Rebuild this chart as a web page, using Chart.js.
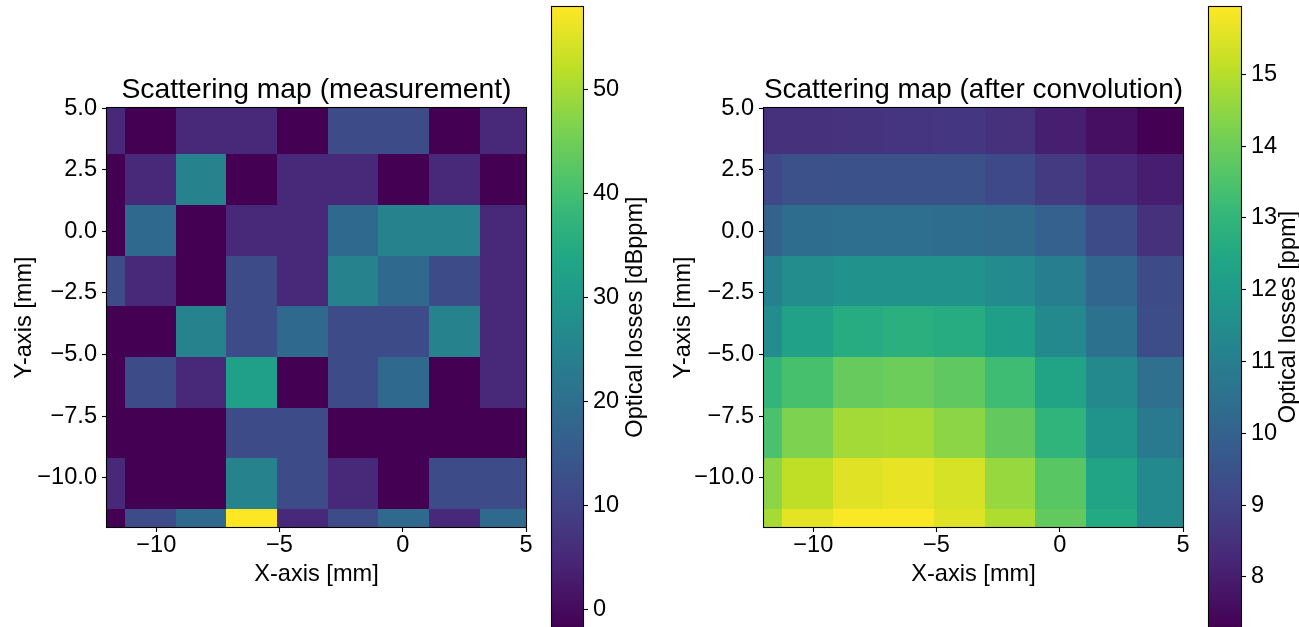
<!DOCTYPE html>
<html>
<head>
<meta charset="utf-8">
<script src="https://cdn.jsdelivr.net/npm/chart.js@4.4.1/dist/chart.umd.min.js"></script>
<style>
  html, body { margin: 0; padding: 0; background: #fff; }
  #wrap { position: relative; width: 1299px; height: 627px; overflow: hidden; background: #fff; }
  #wrap canvas { position: absolute; left: 0; top: 0; }
</style>
</head>
<body>
<div id="wrap">
  <canvas id="mapRaw" width="1299" height="627"></canvas>
  <canvas id="barRaw" width="1299" height="627"></canvas>
  <canvas id="mapConv" width="1299" height="627"></canvas>
  <canvas id="barConv" width="1299" height="627"></canvas>
</div>
<script>
// grid cell edges in mm (same for x and y)
const cellEdges = [-13.33, -11.27, -9.21, -7.16, -5.10, -3.05, -0.99, 1.07, 3.12, 5.18];
const xTickValues = [-10, -5, 0, 5];
const yTickValues = [-10, -7.5, -5, -2.5, 0, 2.5, 5];

// measured losses in dBppm, rows listed from top (y = 5) to bottom (y = -12)
const measuredLosses = [
  [5.0, -1.7, 5.0, 5.0, -1.7, 12.0, 12.0, -1.7, 5.0],
  [-1.7, 5.0, 25.0, -1.7, 5.0, 5.0, -1.7, 5.0, -1.7],
  [-1.7, 18.5, -1.7, 5.0, 5.0, 18.5, 25.0, 25.0, 5.0],
  [12.0, 5.0, -1.7, 12.0, 5.0, 25.0, 18.5, 12.0, 5.0],
  [-1.7, -1.7, 25.0, 12.0, 18.5, 12.0, 12.0, 25.0, 5.0],
  [-1.7, 12.0, 5.0, 32.0, -1.7, 12.0, 18.5, -1.7, 5.0],
  [-1.7, -1.7, -1.7, 12.0, 12.0, -1.7, -1.7, -1.7, -1.7],
  [5.0, -1.7, -1.7, 25.0, 12.0, 5.0, -1.7, 12.0, 12.0],
  [-1.7, 12.0, 18.5, 57.9, 5.0, 12.0, 18.5, 5.0, 18.5]
];

// losses after convolution in ppm, same row order
const convolvedLosses = [
  [8.5, 8.5, 8.55, 8.6, 8.65, 8.5, 8.05, 7.65, 7.3],
  [9.15, 9.4, 9.45, 9.45, 9.45, 9.2, 8.75, 8.25, 8.0],
  [10.0, 10.35, 10.4, 10.4, 10.35, 10.3, 9.95, 9.25, 8.5],
  [11.05, 11.5, 11.65, 11.7, 11.65, 11.4, 11.0, 10.15, 9.25],
  [11.5, 12.2, 12.65, 12.75, 12.65, 12.15, 11.35, 10.55, 9.3],
  [13.0, 13.4, 13.9, 14.0, 13.8, 13.25, 12.35, 11.35, 10.45],
  [13.45, 14.25, 14.75, 14.8, 14.45, 13.85, 12.95, 11.75, 10.85],
  [14.45, 15.1, 15.55, 15.65, 15.4, 14.6, 13.7, 12.3, 11.35],
  [14.8, 15.6, 15.9, 15.9, 15.55, 14.9, 13.85, 12.55, 11.35]
];

const measuredRange = [-1.7, 57.9];
const convolvedRange = [7.3, 15.94];
const measuredBarTicks = [0, 10, 20, 30, 40, 50];
const convolvedBarTicks = [8, 9, 10, 11, 12, 13, 14, 15];

const FONT = '"Liberation Sans", Arial, sans-serif';
const TICK_SIZE = 23.6;
const TITLE_SIZE = 28.3;

const viridisStops = [
  [0.000, '#440154'], [0.100, '#482475'], [0.111, '#482878'], [0.200, '#414487'],
  [0.222, '#3e4a89'], [0.300, '#355f8d'], [0.333, '#31688e'], [0.400, '#2a788e'],
  [0.444, '#26828e'], [0.500, '#21918c'], [0.556, '#1f9e89'], [0.600, '#22a884'],
  [0.667, '#35b779'], [0.700, '#44bf70'], [0.778, '#6dcd59'], [0.800, '#7ad151'],
  [0.889, '#b4de2c'], [0.900, '#bddf26'], [1.000, '#fde725']
];

function hexToRgb(h) {
  return [1, 3, 5].map(i => parseInt(h.slice(i, i + 2), 16));
}

function viridis(t) {
  t = Math.min(1, Math.max(0, t));
  for (let i = 1; i < viridisStops.length; i++) {
    const [t1, c1] = viridisStops[i];
    if (t <= t1) {
      const [t0, c0] = viridisStops[i - 1];
      const f = (t - t0) / (t1 - t0);
      const a = hexToRgb(c0), b = hexToRgb(c1);
      const rgb = a.map((v, k) => Math.round(v + (b[k] - v) * f));
      return `rgb(${rgb[0]},${rgb[1]},${rgb[2]})`;
    }
  }
  return viridisStops[viridisStops.length - 1][1];
}

const minus = s => s.replace('-', '\u2212');

function drawFrame(chart) {
  const {ctx, chartArea: a} = chart;
  ctx.save();
  ctx.strokeStyle = '#000';
  ctx.lineWidth = 1.1;
  ctx.strokeRect(Math.round(a.left) - 0.5, Math.round(a.top) - 0.5,
    Math.round(a.width) + 1, Math.round(a.height) + 1);
  ctx.restore();
}

// fills the grid cells, colour comes from the value through viridis
const heatmapLayer = {
  id: 'heatmap',
  beforeDatasetsDraw(chart, args, opts) {
    const {ctx, chartArea: a, scales: {x, y}} = chart;
    const n = opts.values.length;
    const [lo, hi] = opts.range;
    ctx.save();
    ctx.beginPath();
    ctx.rect(a.left, a.top, a.width, a.height);
    ctx.clip();
    opts.values.forEach((row, r) => {
      const y0 = Math.round(y.getPixelForValue(opts.edges[n - r]));
      const y1 = Math.round(y.getPixelForValue(opts.edges[n - 1 - r]));
      row.forEach((v, c) => {
        const x0 = Math.round(x.getPixelForValue(opts.edges[c]));
        const x1 = Math.round(x.getPixelForValue(opts.edges[c + 1]));
        ctx.fillStyle = viridis((v - lo) / (hi - lo));
        ctx.fillRect(x0, y0, x1 - x0, y1 - y0);
      });
    });
    ctx.restore();
  },
  afterDraw: drawFrame
};

// colour bar: gradient along the y scale plus a rotated label
const colorBarLayer = {
  id: 'colorbar',
  beforeDatasetsDraw(chart, args, opts) {
    const {ctx, chartArea: a, scales: {y}} = chart;
    const [lo, hi] = opts.range;
    const g = ctx.createLinearGradient(0, y.getPixelForValue(lo), 0, y.getPixelForValue(hi));
    viridisStops.forEach(([t, c]) => g.addColorStop(t, c));
    ctx.save();
    ctx.fillStyle = g;
    ctx.fillRect(a.left, a.top, a.width, a.height);
    ctx.restore();
  },
  afterDraw(chart, args, opts) {
    drawFrame(chart);
    const {ctx, chartArea: a} = chart;
    ctx.save();
    ctx.translate(a.right + opts.labelOffset, (a.top + a.bottom) / 2);
    ctx.rotate(-Math.PI / 2);
    ctx.font = `${TICK_SIZE}px ${FONT}`;
    ctx.fillStyle = '#000';
    ctx.textAlign = 'center';
    ctx.textBaseline = 'middle';
    ctx.fillText(opts.label, 0, 0);
    ctx.restore();
  }
};

const tickGrid = {drawOnChartArea: false, drawTicks: true, tickLength: 5, tickColor: '#000', tickWidth: 1.1};

function fixWidth(w) {
  return s => { s.width = w; s.paddingTop = 0; s.paddingBottom = 0; };
}

function heatmapChart(id, title, values, range, padLeft, yWidth, plotRight) {
  return new Chart(document.getElementById(id), {
    type: 'scatter',
    data: {datasets: [{data: []}]},
    plugins: [heatmapLayer],
    options: {
      responsive: false,
      devicePixelRatio: 1,
      animation: false,
      events: [],
      layout: {padding: {left: padLeft, right: 1299 - plotRight, top: 0, bottom: 0}},
      plugins: {
        legend: {display: false},
        tooltip: {enabled: false},
        title: {
          display: true,
          text: title,
          fullSize: false,
          color: '#000',
          font: {family: FONT, size: TITLE_SIZE, weight: 'normal', lineHeight: 1.2},
          padding: {top: 73, bottom: 1.04}
        },
        heatmap: {values: values, range: range, edges: cellEdges}
      },
      scales: {
        x: {
          type: 'linear', position: 'bottom', min: -12, max: 5,
          afterBuildTicks: s => { s.ticks = xTickValues.map(v => ({value: v})); },
          afterFit: s => { s.height = 100; s.paddingLeft = 0; s.paddingRight = 0; },
          grid: tickGrid,
          border: {display: false},
          ticks: {
            color: '#000', padding: 5, maxRotation: 0,
            font: {family: FONT, size: TICK_SIZE, lineHeight: 0.72},
            callback: v => minus(String(v))
          },
          title: {
            display: true, text: 'X-axis [mm]', color: '#000',
            font: {family: FONT, size: TICK_SIZE, lineHeight: 1.2},
            padding: {top: 0, bottom: 38.8}
          }
        },
        y: {
          type: 'linear', position: 'left', min: -12, max: 5,
          afterBuildTicks: s => { s.ticks = yTickValues.map(v => ({value: v})); },
          afterFit: fixWidth(yWidth),
          grid: tickGrid,
          border: {display: false},
          ticks: {
            color: '#000', padding: 5,
            font: {family: FONT, size: TICK_SIZE},
            callback: v => minus(Number(v).toFixed(1))
          },
          title: {
            display: true, text: 'Y-axis [mm]', color: '#000',
            font: {family: FONT, size: TICK_SIZE, lineHeight: 1.2},
            padding: {top: 10.8, bottom: 0}
          }
        }
      }
    }
  });
}

function colorBarChart(id, range, ticks, label, barLeft, barRight, axisWidth, labelOffset) {
  return new Chart(document.getElementById(id), {
    type: 'scatter',
    data: {datasets: [{data: []}]},
    plugins: [colorBarLayer],
    options: {
      responsive: false,
      devicePixelRatio: 1,
      animation: false,
      events: [],
      layout: {padding: {left: barLeft, right: 1299 - barRight - axisWidth, top: 7, bottom: 0}},
      plugins: {
        legend: {display: false},
        tooltip: {enabled: false},
        colorbar: {range: range, label: label, labelOffset: labelOffset}
      },
      scales: {
        x: {type: 'linear', display: false, min: 0, max: 1},
        y: {
          type: 'linear', position: 'right', min: range[0], max: range[1],
          afterBuildTicks: s => { s.ticks = ticks.map(v => ({value: v})); },
          afterFit: fixWidth(axisWidth),
          grid: tickGrid,
          border: {display: false},
          ticks: {
            color: '#000', padding: 5,
            font: {family: FONT, size: TICK_SIZE},
            callback: v => minus(String(v))
          }
        }
      }
    }
  });
}

heatmapChart('mapRaw', 'Scattering map (measurement)', measuredLosses, measuredRange, 0, 107, 526);
colorBarChart('barRaw', measuredRange, measuredBarTicks, 'Optical losses [dBppm]', 552, 583, 60, 52);
heatmapChart('mapConv', 'Scattering map (after convolution)', convolvedLosses, convolvedRange, 659, 105, 1183);
colorBarChart('barConv', convolvedRange, convolvedBarTicks, 'Optical losses [ppm]', 1209, 1241, 40, 47);
</script>
</body>
</html>
